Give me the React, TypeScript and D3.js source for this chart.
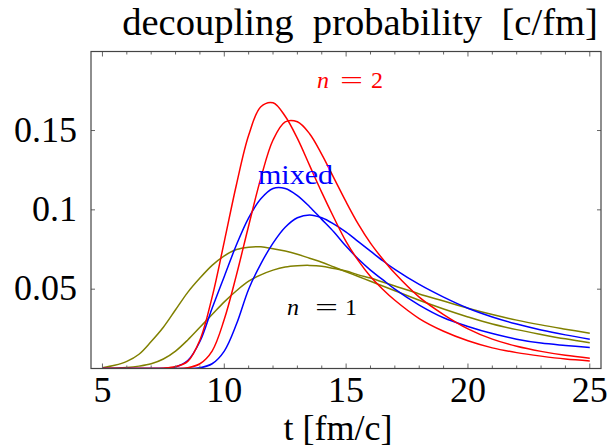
import React from "react";
import * as d3 from "d3";

const times = [5, 5.5, 6, 6.5, 7, 7.5, 8, 8.5, 9, 9.5, 10, 10.5, 11, 11.5, 12, 12.5, 13, 13.5, 14, 14.5, 15, 15.5, 16, 16.5, 17, 18, 19, 20, 21, 22, 23, 24, 25];

const red1 = [0, 0, 0, 0, 0, 0.0002, 0.0012, 0.0045, 0.018, 0.045, 0.08, 0.116, 0.147, 0.165, 0.1675, 0.159, 0.145, 0.128, 0.111, 0.095, 0.08, 0.068, 0.058, 0.05, 0.043, 0.0315, 0.0235, 0.0175, 0.013, 0.01, 0.0078, 0.006, 0.0048];
const red2 = [0, 0, 0, 0, 0, 0, 0, 0.0005, 0.003, 0.011, 0.031, 0.059, 0.09, 0.12, 0.144, 0.1555, 0.1555, 0.148, 0.135, 0.12, 0.105, 0.091, 0.079, 0.069, 0.06, 0.045, 0.034, 0.025, 0.0185, 0.014, 0.0108, 0.0083, 0.0065];
const blue1 = [0, 0, 0, 0, 0, 0, 0.001, 0.005, 0.017, 0.038, 0.058, 0.078, 0.095, 0.107, 0.1135, 0.1135, 0.109, 0.102, 0.094, 0.086, 0.077, 0.069, 0.062, 0.056, 0.05, 0.04, 0.032, 0.0265, 0.022, 0.0185, 0.016, 0.0145, 0.0132];
const blue2 = [0, 0, 0, 0, 0, 0, 0, 0, 0.0005, 0.003, 0.011, 0.028, 0.05, 0.066, 0.079, 0.089, 0.095, 0.0968, 0.095, 0.091, 0.086, 0.08, 0.074, 0.068, 0.0625, 0.053, 0.045, 0.038, 0.0325, 0.028, 0.0243, 0.0212, 0.0185];
const olive1 = [0.0005, 0.002, 0.0045, 0.009, 0.017, 0.026, 0.037, 0.048, 0.057, 0.065, 0.071, 0.075, 0.0765, 0.0767, 0.0755, 0.074, 0.072, 0.0695, 0.067, 0.064, 0.061, 0.058, 0.055, 0.052, 0.049, 0.043, 0.0375, 0.0325, 0.028, 0.0245, 0.0215, 0.0187, 0.0163];
const olive2 = [0, 0.0002, 0.0006, 0.0015, 0.003, 0.006, 0.011, 0.018, 0.026, 0.034, 0.042, 0.049, 0.055, 0.059, 0.062, 0.064, 0.0648, 0.065, 0.0645, 0.063, 0.0615, 0.059, 0.057, 0.0545, 0.052, 0.047, 0.0425, 0.038, 0.034, 0.0305, 0.0275, 0.0248, 0.0222];

const seriesValues = [olive1, olive2, blue1, blue2, red1, red2];
const seriesColors = ["#808000", "#808000", "#0000ff", "#0000ff", "#ff0000", "#ff0000"];

const xTicksMajor = [5, 10, 15, 20, 25];
const xTicksMinor = d3.range(5, 26, 1);
const yTicks = [0.05, 0.1, 0.15];
const yTickLabels = ["0.05", "0.1", "0.15"];

const titleText = "decoupling  probability  [c/fm]";
const xLabelText = "t [fm/c]";

export default function App() {
  const W = 608, H = 448;
  const left = 91, right = 601, top = 51.5, bottom = 368.5;
  const x = d3.scaleLinear().domain([4.53, 25.46]).range([left, right]);
  const y = d3.scaleLinear().domain([0, 0.2]).range([bottom, top - 0.3]);
  const line = d3.line<number>()
    .x((_, i) => x(times[i]))
    .y((d) => Math.min(y(d), bottom))
    .curve(d3.curveCatmullRom.alpha(0.5));
  const font = "'Liberation Serif', 'Times New Roman', serif";
  const tickColor = "#666";
  return (
    <svg width={W} height={H} style={{ position: "absolute", left: 0, top: 0, background: "#fff" }} fontFamily={font}>
      <text x={360} y={35} fontSize={38.6} textAnchor="middle" style={{ whiteSpace: "pre" }}>{titleText}</text>
      <defs>
        <clipPath id="clip">
          <rect x={left} y={top} width={right - left} height={bottom - top} />
        </clipPath>
      </defs>
      <g clipPath="url(#clip)">
        {seriesValues.map((vals, k) => (
          <path key={k} d={line(vals) || ""} fill="none" stroke={seriesColors[k]} strokeWidth={1.5} />
        ))}
      </g>
      {xTicksMinor.map((t) => {
        const major = xTicksMajor.includes(t);
        const len = major ? 5 : 3;
        return (
          <g key={t}>
            <line x1={x(t)} x2={x(t)} y1={bottom} y2={bottom - len} stroke={tickColor} strokeWidth={1} />
            <line x1={x(t)} x2={x(t)} y1={top} y2={top + len} stroke={tickColor} strokeWidth={1} />
          </g>
        );
      })}
      {yTicks.map((v) => (
        <g key={v}>
          <line x1={left} x2={left + 4} y1={y(v)} y2={y(v)} stroke={tickColor} strokeWidth={1} />
          <line x1={right} x2={right - 4} y1={y(v)} y2={y(v)} stroke={tickColor} strokeWidth={1} />
        </g>
      ))}
      <rect x={left} y={top} width={right - left} height={bottom - top} fill="none" stroke="#444" strokeWidth={1.2} />
      {xTicksMajor.map((t) => (
        <text key={t} x={x(t)} y={402} fontSize={36} textAnchor="middle">{t}</text>
      ))}
      {yTicks.map((v, i) => (
        <text key={v} x={77} y={y(v) + 11} fontSize={36} textAnchor="end">{yTickLabels[i]}</text>
      ))}
      <text x={338} y={440} fontSize={36} textAnchor="middle" style={{ whiteSpace: "pre" }}>{xLabelText}</text>
      <g fill="#ff0000" fontSize={24}>
        <text x={317} y={88} fontStyle="italic">n</text>
        <text x={340} y={88} textLength={23} lengthAdjust="spacingAndGlyphs">=</text>
        <text x={371} y={88}>2</text>
      </g>
      <text x={258} y={184} fontSize={27} fill="#0000ff" textLength={75} lengthAdjust="spacingAndGlyphs">mixed</text>
      <g fill="#000" fontSize={24}>
        <text x={287} y={315} fontStyle="italic">n</text>
        <text x={315} y={315} textLength={23} lengthAdjust="spacingAndGlyphs">=</text>
        <text x={345} y={315}>1</text>
      </g>
    </svg>
  );
}
